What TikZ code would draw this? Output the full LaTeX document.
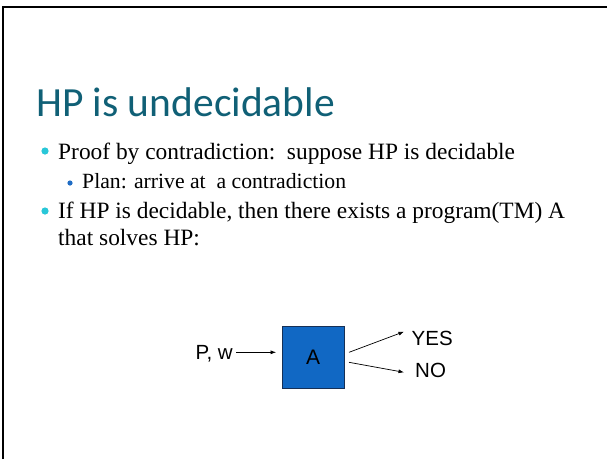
\documentclass[tikz,border=0pt]{standalone}
\usepackage{fontspec}
\setmainfont{Liberation Serif}
\newfontfamily\headfont{Carlito}
\newfontfamily\labfont{Liberation Sans}
\usetikzlibrary{arrows.meta}

\definecolor{headcol}{RGB}{16,96,118}
\definecolor{dotone}{RGB}{41,199,216}
\definecolor{dottwo}{RGB}{31,108,196}
\definecolor{boxcol}{RGB}{17,104,196}
\definecolor{boxline}{RGB}{22,48,86}

\begin{document}
\begin{tikzpicture}[x=1pt,y=-1pt,
  txt/.style={anchor=base west,inner sep=0pt,font=\fontsize{23.4}{28}\selectfont},
  subtxt/.style={anchor=base west,inner sep=0pt,font=\fontsize{21.7}{26}\selectfont},
  lab/.style={inner sep=0pt,font=\labfont\fontsize{20.5}{24}\selectfont},
  arr/.style={-{Latex[length=5.5pt,width=4pt]},line width=0.7pt}]
\useasboundingbox (0,0) rectangle (607,459);
\draw[line width=2.2pt] (3,459) -- (3,7) -- (607,7);

\node[anchor=base west,inner sep=0pt,text=headcol,font=\headfont\fontsize{41.5}{48}\selectfont] (title) at (36,116) {HP is undecidable};

% bullet list
\fill[dotone] (45,151) circle (3.6);
\node[txt] (l1) at (58,159) {Proof by contradiction:\ \ suppose HP is decidable};
\fill[dottwo] (70,183) circle (2.6);
\node[subtxt] (l2) at (82,188) {Plan: arrive at\ \ a contradiction};
\fill[dotone] (45,211) circle (3.6);
\node[txt] (l3) at (58,218) {If HP is decidable, then there exists a program(TM) A};
\node[txt] (l4) at (58,245) {that solves HP:};

% the decider
\node[draw=boxline,fill=boxcol,line width=0.8pt,minimum size=62,inner sep=0pt,font=\labfont\fontsize{21}{24}\selectfont] (A) at (313,357) {A};
\node[lab,anchor=base east] (in) at (233,359.5) {P, w};
\node[lab,anchor=base west] (yes) at (411.5,345) {YES};
\node[lab,anchor=base west] (no) at (415,377.3) {NO};

\coordinate (inR) at (236,352.3);
\coordinate (yesIn) at (349,352.3);
\coordinate (yesTip) at (404,331.7);
\coordinate (noIn) at (349,362.3);
\coordinate (noTip) at (404,372.3);

\draw[arr,shorten >=5.5pt] (inR) -- (A.west |- inR);
\draw[arr] (yesIn) -- (yesTip);
\draw[arr] (noIn) -- (noTip);

\end{tikzpicture}
\end{document}
